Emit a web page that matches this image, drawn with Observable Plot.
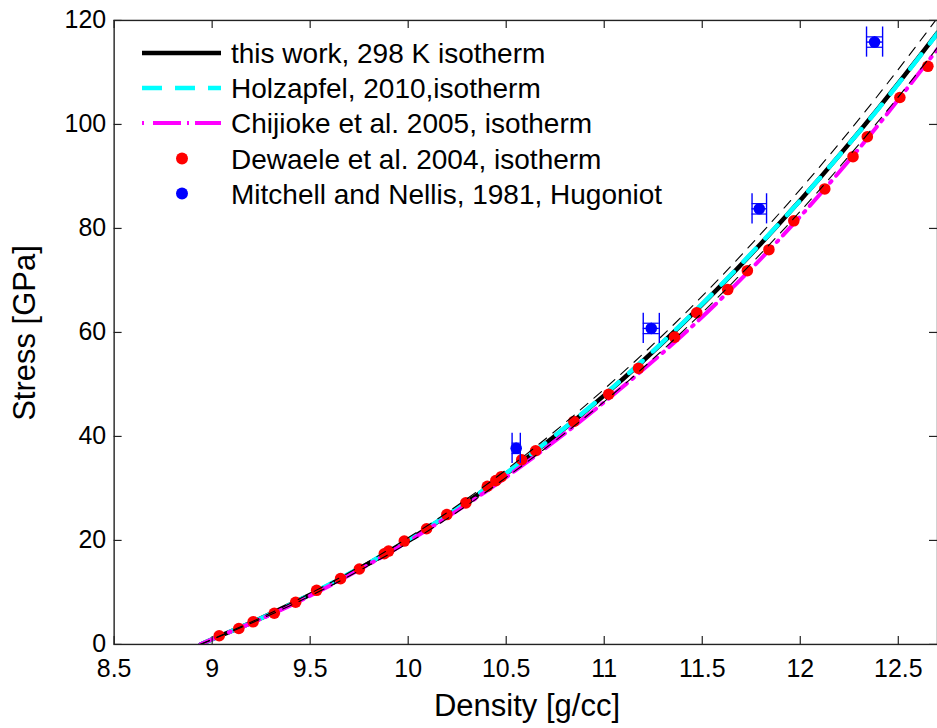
<!DOCTYPE html>
<html><head><meta charset="utf-8">
<script src="https://cdn.jsdelivr.net/npm/d3@7"></script>
<script src="https://cdn.jsdelivr.net/npm/@observablehq/plot@0.6"></script>
<style>
html,body{margin:0;padding:0;background:#fff;overflow:hidden;}
#wrap{position:relative;width:937px;height:728px;overflow:hidden;}
#legend{position:absolute;left:0;top:0;pointer-events:none;}
</style></head><body>
<div id="wrap"></div>
<script>
// ---- data ----
const xTicks = [8.5, 9, 9.5, 10, 10.5, 11, 11.5, 12, 12.5];
const yTicks = [0, 20, 40, 60, 80, 100, 120];

const curveX = [8.94, 9.0, 9.2, 9.4, 9.6, 9.8, 10.0, 10.2, 10.4, 10.6, 10.8, 11.0, 11.2, 11.4, 11.6, 11.8, 12.0, 12.2, 12.4, 12.6, 12.7];
const thisWorkY = [0, 1.0, 4.2, 7.7, 11.5, 15.6, 20.0, 24.8, 30.0, 35.7, 41.6, 47.9, 54.6, 61.7, 69.2, 77.1, 85.4, 94.1, 103.2, 112.7, 117.6];
const holzapfelY = [0, 1.0, 4.2, 7.7, 11.6, 15.7, 20.1, 24.9, 30.1, 35.8, 41.7, 48.0, 54.7, 61.8, 69.3, 77.2, 85.4, 94.1, 103.1, 112.6, 117.5];
const chijiokeY = [0, 1.0, 4.1, 7.5, 11.3, 15.4, 19.8, 24.5, 29.5, 34.9, 40.6, 46.6, 52.9, 59.5, 66.6, 74.2, 82.3, 90.9, 100.0, 109.6, 114.5];

const boundX = [8.94, 9.4, 9.8, 10.2, 10.6, 11.0, 11.4, 11.8, 12.2, 12.6, 12.7];
const upperY = [0, 7.9, 16.0, 25.4, 36.5, 49.1, 63.2, 79.0, 96.4, 115.5, 120.5];
const lowerY = [0, 7.5, 15.2, 24.2, 34.9, 46.7, 60.2, 75.2, 91.8, 110.0, 114.8];

const dewaeleX = [9.036, 9.136, 9.209, 9.317, 9.426, 9.533, 9.655, 9.751, 9.878, 9.900, 9.980, 10.094, 10.197, 10.294, 10.404, 10.447, 10.475, 10.579, 10.650, 10.845, 11.023, 11.175, 11.359, 11.472, 11.630, 11.730, 11.840, 11.967, 12.125, 12.269, 12.342, 12.508, 12.651];
const dewaeleY = [1.67, 3.07, 4.35, 6.0, 8.11, 10.41, 12.65, 14.51, 17.44, 17.96, 19.88, 22.24, 24.98, 27.22, 30.42, 31.5, 32.26, 35.52, 37.25, 42.88, 48.11, 53.1, 59.1, 63.78, 68.24, 71.88, 75.91, 81.47, 87.6, 93.8, 97.63, 105.18, 111.18];

const mitchellX = [10.551, 11.240, 11.791, 12.379];
const mitchellY = [37.71, 60.77, 83.77, 115.84];
const mitchellXErr = [0.021, 0.041, 0.037, 0.041];
const mitchellYErr = [1.0, 1.0, 1.0, 1.0];

const legendLabels = ["this work, 298 K isotherm", "Holzapfel, 2010,isotherm", "Chijioke et al. 2005, isotherm", "Dewaele et al. 2004, isotherm", "Mitchell and Nellis, 1981, Hugoniot"];
const xTitle = "Density [g/cc]";
const yTitle = "Stress [GPa]";

// ---- tables ----
const pts = (xs, ys) => xs.map((x, i) => ({x, y: ys[i]}));
const thisWork = pts(curveX, thisWorkY);
const holzapfel = pts(curveX, holzapfelY);
const chijioke = pts(curveX, chijiokeY);
const upper = pts(boundX, upperY);
const lower = pts(boundX, lowerY);
const dewaele = pts(dewaeleX, dewaeleY);
const mitchell = mitchellX.map((x, i) => ({x, y: mitchellY[i], dx: mitchellXErr[i], dy: mitchellYErr[i]}));

const FONT = "'Liberation Sans', Arial, Helvetica, sans-serif";
const W = 940, H = 728, ML = 114, MR = 0, MT = 20, MB = 82;
const frameW = W - ML - MR, frameH = H - MT - MB;
const tickLen = 8;
const capHalf = 2.9; // half-height of the horizontal error-bar caps (GPa)
const BLUE = "#0000ff", RED = "#ff0000", CYAN = "#00ffff", MAGENTA = "#ff00ff";

const chart = Plot.plot({
  width: W, height: H,
  marginTop: MT, marginBottom: MB, marginLeft: ML, marginRight: MR,
  x: {domain: [8.5, 12.7]},
  y: {domain: [0, 120]},
  style: {fontFamily: FONT, fontSize: "25px", color: "black", background: "white", overflow: "visible"},
  marks: [
    Plot.line(thisWork, {x: "x", y: "y", stroke: "black", strokeWidth: 4.5, curve: "monotone-x", clip: true}),
    Plot.line(holzapfel, {x: "x", y: "y", stroke: CYAN, strokeWidth: 4.5, strokeDasharray: "18,14", curve: "monotone-x", clip: true}),
    Plot.line(chijioke, {x: "x", y: "y", stroke: MAGENTA, strokeWidth: 4, strokeDasharray: "24,7,2,7", curve: "monotone-x", clip: true}),
    Plot.dot(dewaele, {x: "x", y: "y", r: 5.8, fill: RED, stroke: "none"}),
    Plot.line(upper, {x: "x", y: "y", stroke: "black", strokeWidth: 1.1, strokeDasharray: "10,8", curve: "monotone-x", clip: true}),
    Plot.line(lower, {x: "x", y: "y", stroke: "black", strokeWidth: 1.1, strokeDasharray: "10,8", curve: "monotone-x", clip: true}),
    // Mitchell & Nellis with error bars
    Plot.ruleY(mitchell, {y: "y", x1: d => d.x - d.dx, x2: d => d.x + d.dx, stroke: BLUE, strokeWidth: 1.4}),
    Plot.ruleX(mitchell, {x: d => d.x - d.dx, y1: d => d.y - capHalf, y2: d => d.y + capHalf, stroke: BLUE, strokeWidth: 1.4}),
    Plot.ruleX(mitchell, {x: d => d.x + d.dx, y1: d => d.y - capHalf, y2: d => d.y + capHalf, stroke: BLUE, strokeWidth: 1.4}),
    Plot.ruleX(mitchell, {x: "x", y1: d => d.y - d.dy, y2: d => d.y + d.dy, stroke: BLUE, strokeWidth: 1.4}),
    Plot.ruleY(mitchell, {y: d => d.y - d.dy, x1: d => d.x - d.dx, x2: d => d.x + d.dx, stroke: BLUE, strokeWidth: 1.2}),
    Plot.ruleY(mitchell, {y: d => d.y + d.dy, x1: d => d.x - d.dx, x2: d => d.x + d.dx, stroke: BLUE, strokeWidth: 1.2}),
    Plot.dot(mitchell, {x: "x", y: "y", r: 5.8, fill: BLUE, stroke: "none"}),
    // box and inward ticks
    Plot.frame({stroke: "#222", strokeWidth: 1.4}),
    Plot.ruleX(xTicks, {x: d => d, insetTop: frameH - tickLen, stroke: "#222", strokeWidth: 1.2}),
    Plot.ruleX(xTicks, {x: d => d, insetBottom: frameH - tickLen, stroke: "#222", strokeWidth: 1.2}),
    Plot.ruleY(yTicks, {y: d => d, insetRight: frameW - tickLen, stroke: "#222", strokeWidth: 1.2}),
    Plot.ruleY(yTicks, {y: d => d, insetLeft: frameW - tickLen, stroke: "#222", strokeWidth: 1.2}),
    // tick labels
    Plot.axisX({ticks: xTicks, tickSize: 0, tickPadding: 15, tickFormat: d => String(d), fontSize: 25, label: null}),
    Plot.axisY({ticks: yTicks, tickSize: 0, tickPadding: 8, tickFormat: d => String(d), fontSize: 25, label: null})
  ]
});
const wrap = document.getElementById("wrap");
wrap.appendChild(chart);

// ---- legend and axis titles (overlay) ----
const ns = "http://www.w3.org/2000/svg";
const leg = document.createElementNS(ns, "svg");
leg.setAttribute("id", "legend");
leg.setAttribute("width", 937);
leg.setAttribute("height", 728);
const rowsY = [53, 88, 123, 158.5, 193.5];
const sw = [142, 221];
function el(tag, attrs) { const e = document.createElementNS(ns, tag); for (const k in attrs) e.setAttribute(k, attrs[k]); leg.appendChild(e); return e; }
el("line", {x1: sw[0], x2: sw[1], y1: rowsY[0], y2: rowsY[0], stroke: "black", "stroke-width": 4.5});
el("line", {x1: sw[0], x2: sw[1], y1: rowsY[1], y2: rowsY[1], stroke: CYAN, "stroke-width": 4.5, "stroke-dasharray": "20,13"});
el("line", {x1: sw[0], x2: sw[1], y1: rowsY[2], y2: rowsY[2], stroke: MAGENTA, "stroke-width": 4, "stroke-dasharray": "2,9,28,6,2,6,28,6"});
el("circle", {cx: 182, cy: rowsY[3], r: 6, fill: RED});
el("circle", {cx: 182, cy: rowsY[4], r: 6, fill: BLUE});
legendLabels.forEach((t, i) => {
  const tx = el("text", {x: 231, y: rowsY[i] + 10, "font-family": FONT, "font-size": 28, fill: "black"});
  tx.textContent = t;
});
const xt = el("text", {x: 527, y: 716, "text-anchor": "middle", "font-family": FONT, "font-size": 31, fill: "black"});
xt.textContent = xTitle;
const yt = el("text", {transform: "translate(35,333) rotate(-90)", "text-anchor": "middle", "font-family": FONT, "font-size": 31, fill: "black"});
yt.textContent = yTitle;
wrap.appendChild(leg);
</script>
</body></html>
